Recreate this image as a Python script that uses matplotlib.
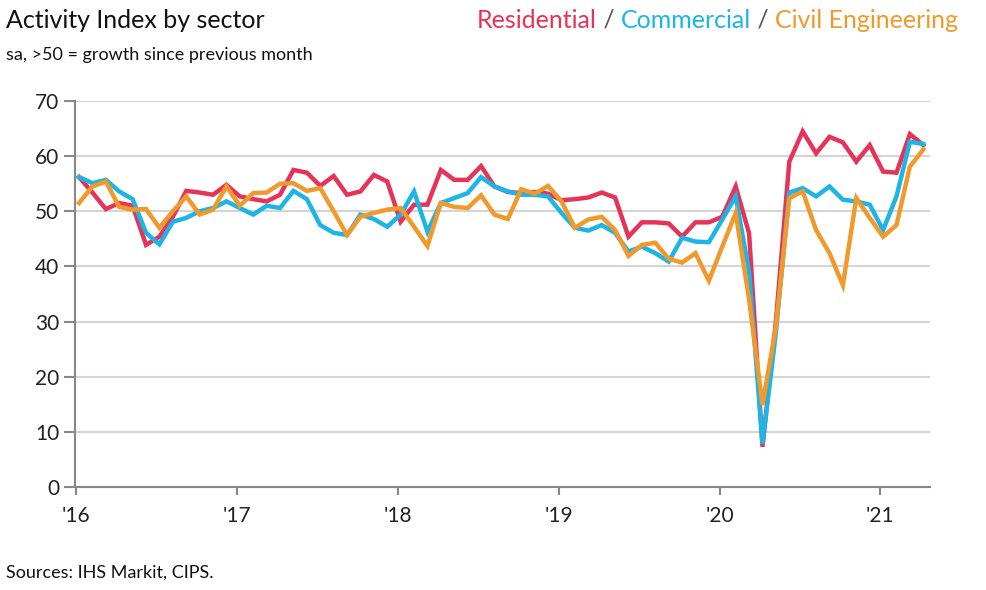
import matplotlib
matplotlib.use("Agg")
import matplotlib.pyplot as plt
import numpy as np

plt.rcParams['font.family'] = ['Lato', 'DejaVu Sans']

# monthly, Jan 2016 .. Apr 2021
residential = [56.2, 53.4, 50.4, 51.5, 51.0, 43.9, 45.4, 49.0, 53.7, 53.4, 53.0, 54.8,
               52.7, 52.2, 51.8, 53.0, 57.5, 57.0, 54.6, 56.4, 53.0, 53.6, 56.6, 55.4,
               48.1, 51.2, 51.2, 57.5, 55.7, 55.7, 58.2, 54.5, 53.5, 53.3, 53.5, 53.2,
               52.0, 52.2, 52.5, 53.4, 52.5, 45.4, 48.0, 48.0, 47.8, 45.4, 48.0, 48.0,
               49.0, 54.5, 46.0, 7.3, 30.0, 59.0, 64.5, 60.5, 63.5, 62.5, 59.0, 62.0,
               57.2, 57.0, 64.0, 62.0]
commercial = [56.2, 55.1, 55.7, 53.6, 52.2, 46.1, 44.0, 48.1, 48.8, 50.0, 50.6, 51.8,
              50.6, 49.4, 51.0, 50.6, 53.7, 52.2, 47.5, 46.1, 45.7, 49.4, 48.6, 47.2,
              49.4, 53.6, 46.3, 51.5, 52.4, 53.3, 56.2, 54.5, 53.6, 53.0, 53.0, 52.7,
              49.7, 47.0, 46.5, 47.5, 46.1, 42.7, 43.6, 42.4, 40.9, 45.2, 44.5, 44.4,
              48.5, 52.7, 39.0, 7.8, 28.0, 53.4, 54.2, 52.7, 54.5, 52.1, 51.8, 51.2,
              46.6, 52.7, 62.6, 62.2]
civil = [51.5, 54.5, 55.4, 50.8, 50.3, 50.4, 47.0, 50.0, 52.7, 49.4, 50.3, 54.5,
         51.0, 53.3, 53.4, 55.0, 55.1, 53.7, 54.2, 50.0, 45.7, 49.0, 49.7, 50.3,
         50.6, 47.2, 43.7, 51.5, 50.8, 50.6, 52.9, 49.4, 48.6, 54.0, 53.2, 54.6,
         51.8, 47.0, 48.5, 49.0, 46.6, 41.9, 43.9, 44.3, 41.4, 40.7, 42.4, 37.4,
         43.6, 49.7, 34.0, 14.9, 29.0, 52.4, 53.6, 46.6, 42.4, 36.6, 52.4, 48.8,
         45.4, 47.5, 58.1, 61.2]
year_labels = ["'16", "'17", "'18", "'19", "'20", "'21"]

RED, BLUE, ORANGE = '#e63459', '#1cb5e6', '#f2992b'

fig = plt.figure(figsize=(9.86, 5.90), dpi=100)
ax = fig.add_axes([75/986, 1-487/590, 855/986, 386/590])

x = np.arange(len(residential))
ax.plot(x, residential, color=RED, lw=3.2, solid_joinstyle='miter')
ax.plot(x, commercial, color=BLUE, lw=3.2, solid_joinstyle='miter')
ax.plot(x, civil, color=ORANGE, lw=3.2, solid_joinstyle='miter')

ax.set_ylim(0, 70)
ax.set_yticks(range(0, 71, 10))
ax.set_xlim(-0.3, 63.5)
ax.set_xticks(np.arange(6) * 12 - 0.2)
ax.set_xticklabels(year_labels)
ax.grid(axis='y', color='#d4d4d4', lw=1.5)
ax.set_axisbelow(True)
for s in ['top', 'right']:
    ax.spines[s].set_visible(False)
for s in ['left', 'bottom']:
    ax.spines[s].set_color('#888888')
    ax.spines[s].set_linewidth(1.5)
ax.tick_params(axis='both', labelsize=15, colors='#222222', length=6, width=1.5)
ax.tick_params(axis='y', length=8, color='#888888')
ax.tick_params(axis='x', color='#888888', pad=8)

fig.text(6/986, 1-20/590, "Activity Index by sector", fontsize=18, va='center', color='#111111')
fig.text(6/986, 1-55/590, "sa, >50 = growth since previous month", fontsize=13, va='center', color='#111111')
fig.text(6/986, 1-573/590, "Sources: IHS Markit, CIPS.", fontsize=13, va='center', color='#111111')

# coloured legend as title text
parts = [("Residential", RED), (" / ", '#555555'), ("Commercial", BLUE),
         (" / ", '#555555'), ("Civil Engineering", ORANGE)]
fig.canvas.draw()
r = fig.canvas.get_renderer()
xpos = 958
for s, c in reversed(parts):
    t = fig.text(xpos/986, 1-20/590, s, fontsize=18, color=c, ha='right', va='center')
    xpos -= t.get_window_extent(renderer=r).width

fig.savefig("out.png", dpi=100)
